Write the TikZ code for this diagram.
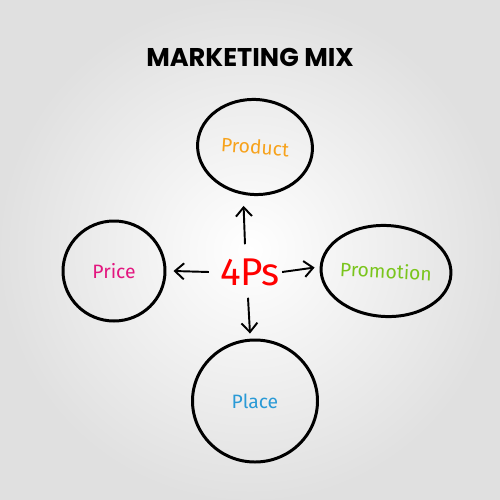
\documentclass[tikz,border=0pt]{standalone}
\usepackage{fontspec}
\setmainfont{Fira Sans}
\newfontfamily\titlefont{Poppins}
\usepackage{tikz}
\usetikzlibrary{positioning,shapes.geometric,arrows.meta}
\definecolor{prodorange}{HTML}{F7A21B}
\definecolor{pricepink}{HTML}{E3167F}
\definecolor{promogreen}{HTML}{7AC51C}
\definecolor{placeblue}{HTML}{2A9AD6}

\begin{document}
\begin{tikzpicture}[x=0.2mm, y=-0.2mm,
					bubble/.style={ellipse, draw=black, line width=1.7pt, inner sep=0pt, font=\fontsize{11}{13}\selectfont},
					hub/.style={font=\fontsize{22}{24}\selectfont, text=red},
					link/.style={-{Straight Barb[length=1.8mm, width=3.2mm]}, line width=1.1pt}
				]
				\shade[inner color=white, outer color=gray!24] (0,0) rectangle (500,500);
				\useasboundingbox (0,0) rectangle (500,500);
				\node[font=\titlefont\bfseries\fontsize{14.6}{16}\selectfont] (title) at (250,57) {MARKETING MIX};
				\node[hub] (fourps) at (250,272) {4Ps};
				\node[bubble, minimum width=23mm, minimum height=19mm, rotate=-4, text=prodorange] (product) at (255,147) {Product};
				\node[bubble, minimum width=20.4mm, minimum height=20mm, text=pricepink] (price) at (114,271) {Price};
				\node[bubble, minimum width=23.6mm, minimum height=18.2mm, rotate=-3, text=promogreen] (promotion) at (386,271) {Promotion};
				\node[bubble, minimum width=25mm, minimum height=24.4mm, text=placeblue] (place) at (255,401) {Place};
				\draw[link] ([xshift=-1mm, yshift=1.6mm]fourps.north) -- ([xshift=-1.6mm, yshift=-2mm]product.south);
				\draw[link] ([xshift=-1mm]fourps.west) -- ([xshift=1.4mm]price.east);
				\draw[link] ([xshift=-0.8mm]fourps.east) -- ([xshift=-1mm]promotion.west);
				\draw[link] ([xshift=-0.4mm, yshift=-1.2mm]fourps.south) -- ([xshift=-1mm, yshift=1mm]place.north);
				\end{tikzpicture}
\end{document}
